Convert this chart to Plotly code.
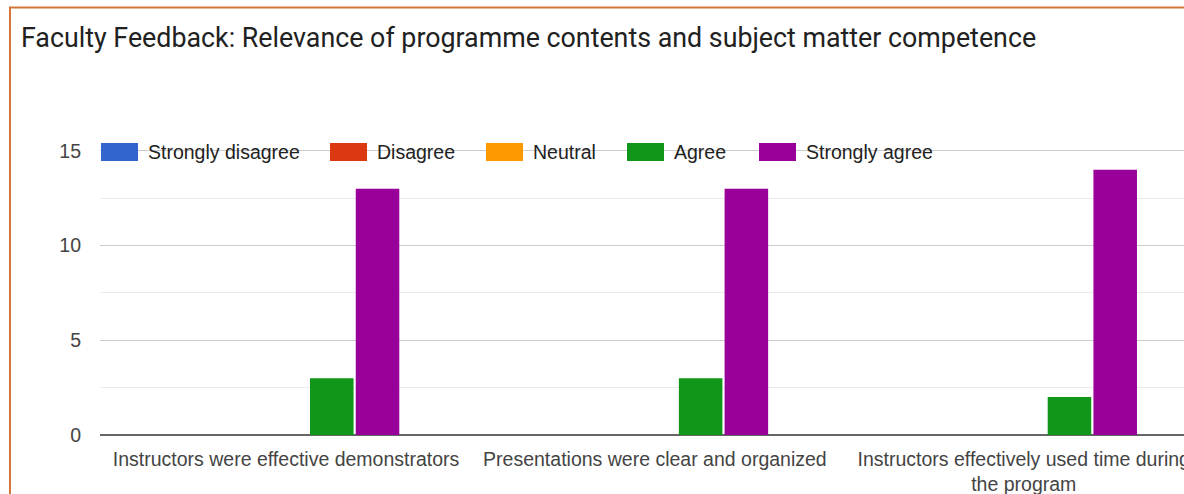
import plotly.graph_objects as go

# ======================================
# DATA
# ======================================

categories = [
    "Instructors were effective demonstrators",
    "Presentations were clear and organized",
    "Instructors effectively used time during<br>the program",
]

series_names = ["Strongly disagree", "Disagree", "Neutral", "Agree", "Strongly agree"]

strongly_disagree = [0, 0, 0]
disagree = [0, 0, 0]
neutral = [0, 0, 0]
agree = [3, 3, 2]
strongly_agree = [13, 13, 14]

series_values = [strongly_disagree, disagree, neutral, agree, strongly_agree]
colors = ["#3366cc", "#dc3912", "#ff9900", "#109618", "#990099"]

title_text = "Faculty Feedback: Relevance of programme contents and subject matter competence"

# ======================================
# LAYOUT HELPERS
# ======================================

W, H = 1184, 494
PL, PR, PT, PB = 100, 0, 147, 59
plot_w = W - PL - PR
plot_h = H - PT - PB

FONT = "Liberation Sans, Arial"


def px_x(x):
    return (x - PL) / plot_w


def px_y(y):
    return (H - PB - y) / plot_h


fig = go.Figure()

# =========================
# BARS
# =========================

for name, vals, col in zip(series_names, series_values, colors):
    fig.add_trace(go.Bar(
        x=categories,
        y=vals,
        name=name,
        marker=dict(color=col, line=dict(width=0)),
        showlegend=False,
    ))

# =========================
# LEGEND (google-style swatches)
# =========================

swatch_left = [101, 330, 486, 627, 759]
shapes = []
annotations = []
for name, col, x0 in zip(series_names, colors, swatch_left):
    shapes.append(dict(
        type="rect", xref="paper", yref="paper",
        x0=px_x(x0), x1=px_x(x0 + 37),
        y0=px_y(161), y1=px_y(143),
        fillcolor=col, line=dict(width=0), layer="above",
    ))
    annotations.append(dict(
        text=name, xref="paper", yref="paper",
        x=px_x(x0 + 45), y=px_y(152),
        xanchor="left", yanchor="middle", showarrow=False,
        font=dict(family=FONT, size=19.5, color="#222222"),
    ))

# =========================
# ORANGE FRAME
# =========================

shapes.append(dict(
    type="rect", xref="paper", yref="paper",
    x0=px_x(10), x1=px_x(W + 20),
    y0=px_y(H + 20), y1=px_y(7.5),
    line=dict(color="#d4753a", width=2),
    fillcolor="rgba(0,0,0,0)", layer="above",
))

annotations.append(dict(
    text=title_text, xref="paper", yref="paper",
    x=px_x(19), y=px_y(38),
    xanchor="left", yanchor="middle", showarrow=False,
    font=dict(family="Roboto, Arial", size=26.8, color="#212121"),
))

# =========================
# STYLE
# =========================

fig.update_layout(
    width=W,
    height=H,
    autosize=False,
    margin=dict(l=PL, r=PR, t=PT, b=PB),
    barmode="group",
    bargap=0.38,
    bargroupgap=0.048,
    plot_bgcolor="white",
    paper_bgcolor="white",
    shapes=shapes,
    annotations=annotations,
    xaxis=dict(
        range=[-0.5044, 2.4345],
        automargin=False,
        showgrid=False,
        showline=False,
        ticks="",
        ticklabelstandoff=10,
        tickfont=dict(family=FONT, size=19.5, color="#444444"),
        fixedrange=True,
    ),
    yaxis=dict(
        range=[0, 15.2],
        automargin=False,
        dtick=5,
        tick0=0,
        showgrid=True,
        gridcolor="#cccccc",
        gridwidth=1,
        zeroline=True,
        zerolinecolor="#666666",
        zerolinewidth=2,
        ticks="",
        ticklabelstandoff=18,
        tickfont=dict(family=FONT, size=19.5, color="#444444"),
        minor=dict(dtick=2.5, tick0=0, showgrid=True, gridcolor="#ebebeb", gridwidth=1),
        fixedrange=True,
    ),
    showlegend=False,
)

fig.write_html(
    "out.html",
    config={"displayModeBar": False},
    post_script="document.body.style.margin='0';document.body.style.overflow='hidden';",
)
